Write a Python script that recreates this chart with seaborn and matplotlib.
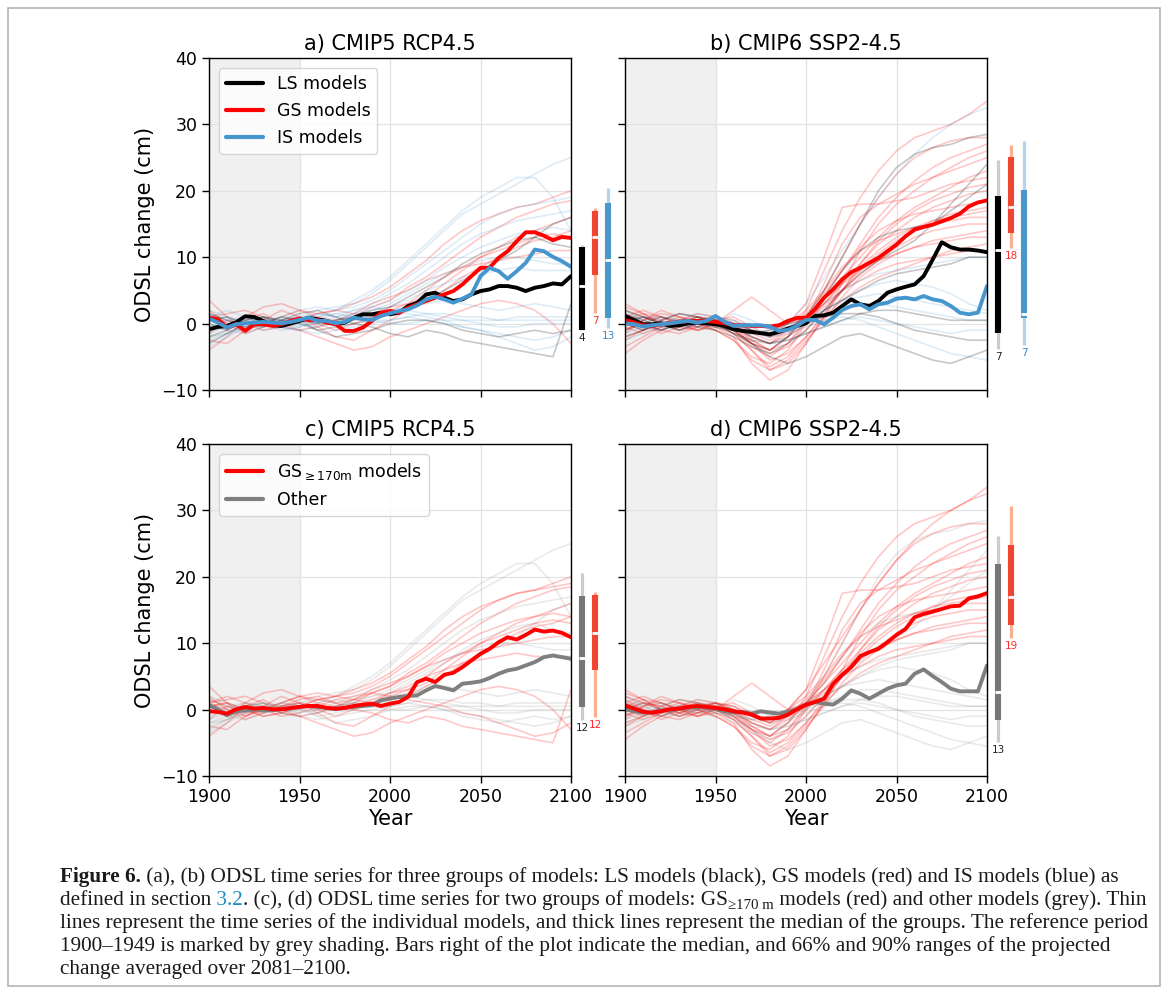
import numpy as np
import pandas as pd
import matplotlib
matplotlib.use("Agg")
import matplotlib.pyplot as plt
from matplotlib.lines import Line2D
from matplotlib.patches import Rectangle
import seaborn as sns

# ---- data ----
YEARS_DEC = list(range(1900, 2101, 10))
YEARS_MED = list(range(1900, 2101, 5))

# CMIP5 individual models, decadal values (cm)
CMIP5_LS = [
    [-2.0, -1.0, 0.5, 1.0, 0.0, 0.5, 0.0, 0.5, 1.0, 2.0, 2.5, 4.0, 5.5, 7.0, 9.0, 10.5, 11.5, 12.5, 13.0, 12.0, 11.5],
    [-3.0, -1.5, 0.0, 1.0, 0.5, 0.0, -1.0, -0.5, 0.0, 0.5, 1.5, 2.5, 3.5, 5.0, 6.5, 8.0, 9.5, 11.0, 13.0, 15.0, 16.0],
    [1.5, 0.5, -0.5, 0.0, 1.0, 0.5, -1.0, -2.0, -1.5, -1.0, 0.0, 0.5, 0.5, 0.0, -1.0, -1.5, -2.0, -1.5, -1.0, -1.5, -1.0],
    [0.5, 1.0, 0.0, -0.5, 0.5, 1.5, 2.0, 1.0, 0.0, -0.5, -1.5, -2.0, -1.0, -1.5, -2.5, -3.0, -3.5, -4.0, -4.5, -5.0, 3.0],
]
CMIP5_GS = [
    [3.5, 1.0, -1.0, 0.0, 1.0, 2.0, 1.5, 2.0, 3.0, 4.0, 5.5, 7.5, 9.5, 12.0, 14.0, 15.5, 16.5, 17.5, 18.0, 19.0, 20.0],
    [-4.0, -2.0, 0.5, 1.5, 0.0, -1.0, -0.5, 0.5, 1.0, 2.5, 3.5, 5.5, 7.0, 9.0, 11.0, 13.0, 14.5, 16.0, 17.0, 18.0, 18.5],
    [2.0, 0.0, -1.5, -0.5, 0.5, 1.0, 0.0, -1.0, 0.0, 1.0, 2.5, 3.0, 4.0, 6.0, 8.0, 10.0, 11.0, 12.0, 13.0, 13.5, 13.0],
    [-2.5, -3.0, -1.0, 0.5, 2.0, 1.0, -0.5, -2.0, -2.5, -1.0, 0.5, 2.0, 3.5, 5.0, 7.0, 8.5, 10.0, 11.5, 12.5, 13.0, 14.0],
    [1.0, 1.5, 2.0, 1.0, -0.5, -1.0, -2.0, -3.0, -4.0, -3.5, -2.0, -1.0, 0.0, 1.0, 2.0, 3.0, 3.5, 3.0, 2.0, 0.0, -3.0],
    [0.0, -1.0, 1.0, 2.5, 3.0, 2.0, 1.0, 0.5, 1.5, 3.0, 4.0, 5.0, 6.5, 7.5, 8.5, 9.0, 9.5, 10.0, 10.5, 11.0, 11.0],
    [-1.5, 0.5, 0.0, -1.0, -0.5, 0.5, 1.5, 2.0, 1.5, 1.0, 2.0, 3.0, 5.0, 7.0, 8.5, 10.0, 11.5, 13.0, 14.0, 15.0, 16.0],
]
CMIP5_IS = [
    [0.0, -1.0, 0.5, 1.0, 0.0, 1.0, 2.0, 2.5, 3.0, 4.5, 6.5, 9.0, 11.5, 14.0, 16.5, 18.0, 19.5, 21.0, 22.5, 24.0, 25.0],
    [-1.0, 0.0, 1.0, 0.5, -0.5, 0.0, 1.0, 2.0, 3.5, 5.0, 7.0, 9.5, 12.0, 14.5, 17.0, 19.0, 20.5, 22.0, 22.0, 19.0, 14.0],
    [1.5, 0.5, -0.5, 0.0, 1.0, 2.0, 2.5, 2.0, 2.5, 3.5, 5.0, 7.0, 9.0, 11.0, 13.0, 15.0, 16.5, 17.5, 18.0, 18.5, 19.0],
    [-2.0, -1.5, 0.0, 0.5, 0.0, -0.5, 0.0, 1.0, 2.0, 3.0, 4.5, 6.0, 8.0, 10.0, 12.0, 13.5, 14.5, 15.5, 16.0, 16.5, 17.0],
    [0.5, 1.0, 0.0, -1.0, -0.5, 0.5, 1.5, 1.0, 1.5, 2.5, 3.5, 5.0, 6.5, 8.5, 10.0, 11.5, 12.5, 13.5, 14.0, 14.5, 14.0],
    [-3.5, -2.0, -0.5, 0.5, 1.0, 0.5, 0.0, 0.5, 1.5, 2.0, 3.0, 4.5, 6.0, 7.5, 8.5, 9.5, 10.0, 10.0, 9.5, 9.0, 9.0],
    [1.0, 0.0, -1.0, 0.0, 0.5, 1.0, 0.5, 0.0, 0.5, 1.5, 2.5, 3.5, 5.0, 6.0, 7.0, 7.5, 8.0, 8.5, 8.0, 8.0, 8.0],
    [-1.5, -0.5, 0.5, 1.0, 0.5, 0.0, -0.5, 0.0, 1.0, 1.5, 2.0, 2.5, 3.0, 3.5, 3.0, 2.5, 2.0, 2.5, 3.0, 2.5, 2.0],
    [2.0, 1.0, 0.0, -0.5, 0.0, 0.5, 1.0, 1.5, 1.0, 0.5, 0.5, 1.0, 1.5, 1.5, 1.0, 1.0, 0.5, 1.0, 1.0, 1.0, 1.0],
    [-0.5, 0.5, 1.0, 0.5, -0.5, -1.0, -0.5, 0.5, 1.0, 0.5, 0.0, 0.0, 0.5, 0.5, 0.5, 0.5, 0.5, 0.5, 0.5, 0.5, 0.5],
    [0.0, -1.0, -1.5, -0.5, 0.5, 1.0, 1.5, 1.0, 0.5, 1.0, 1.5, 2.0, 1.5, 1.0, 0.5, 0.0, -0.5, -0.5, 0.0, 0.0, 0.0],
    [-2.5, -1.5, -0.5, 0.0, -0.5, -1.0, -1.5, -1.0, -0.5, 0.0, 0.5, 1.0, 0.5, 0.0, -0.5, -1.0, -1.5, -2.0, -2.5, -2.0, -1.0],
    [1.0, 2.0, 1.0, 0.0, -1.0, -0.5, 0.5, 1.5, 2.0, 2.5, 2.0, 1.5, 1.0, 0.5, -0.5, -1.0, -2.0, -3.0, -4.0, -3.5, -2.0],
]
# regrouping of the same CMIP5 models for panel c (LS, GS, IS order)
CMIP5_GROUPS_C = (["Other", "Other", "Other", "GS170"] + ["GS170"] * 7
                  + ["Other", "Other", "GS170", "Other", "GS170", "Other", "GS170",
                     "Other", "Other", "Other", "Other", "Other", "GS170"])

# CMIP6 individual models, decadal values (cm)
CMIP6_LS = [
    [0.5, 1.0, 0.0, -0.5, 0.5, 0.0, -1.0, -3.0, -4.0, -2.0, 1.0, 5.0, 10.0, 15.0, 20.0, 23.5, 25.5, 26.5, 27.0, 28.0, 28.5],
    [-1.0, 0.0, 1.0, 0.5, -0.5, -1.0, -2.0, -3.5, -4.5, -3.0, -1.0, 2.0, 5.0, 7.5, 9.5, 11.0, 12.5, 15.0, 18.0, 21.0, 24.0],
    [1.5, 0.5, -0.5, 0.0, 1.0, 0.5, 0.0, -1.0, -2.0, -1.0, 1.0, 4.0, 8.0, 11.0, 13.0, 14.0, 14.5, 15.0, 17.0, 19.0, 21.0],
    [0.0, -1.0, 0.5, 1.5, 1.0, 0.0, -1.5, -2.5, -3.0, -2.0, 0.0, 2.0, 3.5, 5.0, 6.5, 7.5, 8.0, 8.5, 9.0, 10.0, 10.0],
    [2.0, 1.0, 0.0, -1.0, 0.0, 0.5, -0.5, -2.0, -3.0, -2.5, -1.5, -0.5, 0.5, 1.5, 2.0, 2.0, 1.5, 1.0, 0.5, 0.5, 0.5],
    [-2.0, -1.0, 0.0, 0.5, 0.0, -0.5, -1.0, -1.5, -1.0, 0.0, 0.5, 1.0, 1.5, 1.5, 1.0, 0.0, -1.0, -1.5, -2.0, -2.5, -2.5],
    [1.0, 0.0, -1.0, 0.0, 0.5, 0.0, -1.5, -3.0, -5.0, -6.0, -5.0, -3.5, -2.0, -1.5, -2.5, -3.5, -4.5, -5.5, -6.0, -5.0, -4.0],
]
CMIP6_GS = [
    [1.0, 0.0, -1.0, 0.0, 1.0, 0.5, -1.0, -3.0, -4.0, -2.0, 2.0, 8.0, 14.0, 19.0, 23.0, 26.0, 28.0, 29.0, 30.0, 31.5, 33.5],
    [-1.0, 0.5, 1.5, 1.0, 0.0, -1.0, -2.5, -5.0, -6.0, -4.0, 0.0, 5.0, 10.0, 15.0, 19.0, 22.5, 25.0, 26.5, 27.5, 28.0, 28.0],
    [2.0, 1.0, 0.0, -1.0, 0.0, 1.0, 0.0, -2.0, -3.0, -1.0, 1.0, 4.0, 8.0, 12.0, 16.0, 19.0, 21.5, 23.5, 25.0, 26.0, 27.0],
    [-2.0, -1.0, 0.5, 1.5, 1.0, 0.0, -1.5, -4.0, -7.0, -6.0, -3.0, 1.0, 6.0, 11.0, 15.0, 18.0, 20.0, 22.0, 23.5, 25.0, 26.0],
    [0.5, 1.5, 1.0, 0.0, -0.5, 0.0, -1.0, -3.5, -5.0, -3.0, 0.5, 6.0, 12.0, 16.0, 18.0, 19.5, 21.0, 22.0, 23.0, 24.0, 25.0],
    [-3.5, -2.0, -0.5, 0.5, 1.0, 0.5, -0.5, -2.5, -4.0, -2.0, 1.0, 4.0, 7.0, 10.0, 13.0, 15.5, 17.5, 19.0, 20.5, 22.0, 23.0],
    [1.5, 0.0, -1.5, -0.5, 0.5, 1.0, 0.5, -1.0, -2.0, 0.0, 3.0, 10.0, 17.5, 18.0, 18.0, 18.5, 19.0, 20.0, 21.0, 21.5, 22.0],
    [0.0, -1.0, 0.0, 1.0, 0.5, -0.5, -2.0, -6.0, -8.5, -7.0, -3.0, 1.0, 5.0, 9.0, 12.5, 15.0, 17.0, 18.5, 19.5, 20.5, 21.0],
    [-1.5, 0.5, 1.0, 0.0, -1.0, 0.0, -0.5, -2.0, -3.0, -1.5, 0.5, 3.0, 6.0, 9.0, 12.0, 14.0, 16.0, 17.5, 18.5, 19.5, 20.0],
    [2.5, 1.5, 0.0, -1.0, -0.5, 0.5, 0.0, -1.5, -2.5, -1.0, 1.5, 4.5, 8.0, 11.5, 14.0, 15.5, 16.5, 17.0, 17.5, 18.0, 18.5],
    [-0.5, -1.5, -0.5, 0.5, 1.5, 1.0, -0.5, -3.0, -4.5, -3.5, -1.0, 2.0, 5.0, 8.0, 10.5, 12.5, 14.0, 15.5, 16.5, 17.0, 17.5],
    [1.0, 2.0, 1.0, 0.0, -1.0, -0.5, -1.5, -4.0, -6.5, -5.0, -2.0, 1.5, 5.0, 8.5, 11.0, 13.0, 14.5, 15.5, 16.0, 16.5, 17.0],
    [-2.5, -1.0, 0.0, 0.5, 0.0, 0.5, 0.0, -1.0, -1.5, 0.0, 2.0, 5.0, 8.5, 11.0, 12.5, 13.5, 14.5, 15.0, 15.5, 16.0, 16.0],
    [0.5, 0.0, -1.0, -1.5, -0.5, 0.5, 1.0, -0.5, -2.0, -1.0, 0.5, 2.5, 5.0, 7.5, 9.5, 11.5, 13.0, 14.0, 14.5, 15.0, 15.0],
    [-1.0, 0.5, 2.0, 1.0, 0.0, -1.0, -2.5, -5.5, -7.0, -5.5, -2.5, 0.5, 4.0, 7.0, 9.0, 10.5, 11.5, 12.5, 13.0, 13.5, 14.0],
    [3.0, 1.5, 0.0, -0.5, 0.5, 1.0, 0.0, -2.5, -4.0, -3.0, 0.0, 3.0, 6.0, 8.0, 9.5, 10.5, 11.5, 12.0, 12.5, 13.0, 13.0],
    [-4.5, -2.5, -1.0, 0.0, 0.5, 0.0, -1.0, -3.0, -5.5, -4.5, -2.0, 1.0, 3.5, 5.5, 7.0, 8.0, 9.0, 10.0, 11.0, 11.5, 12.0],
    [0.0, 1.0, 0.5, -0.5, -1.0, 0.0, 2.0, 4.0, 2.0, 0.0, 1.0, 3.0, 5.0, 6.5, 8.0, 9.0, 9.5, 10.0, 10.5, 11.0, 11.0],
]
CMIP6_IS = [
    [0.0, 1.0, 0.5, -0.5, 0.0, 1.0, 0.5, -1.0, -2.0, 0.0, 3.0, 7.0, 11.0, 15.0, 19.0, 22.5, 25.5, 28.0, 30.0, 31.5, 32.5],
    [-1.5, -0.5, 0.5, 1.5, 1.0, 0.0, 1.5, 0.5, -1.0, -0.5, 1.0, 3.0, 5.0, 6.5, 7.5, 8.0, 8.5, 9.0, 9.5, 10.0, 10.0],
    [1.0, 0.0, -1.0, 0.0, 0.5, 0.5, -0.5, -1.5, -1.0, 0.0, 1.0, 2.0, 3.5, 4.0, 4.5, 4.0, 3.5, 3.0, 2.5, 2.0, 1.5],
    [-0.5, 1.0, 1.0, 0.0, -0.5, 0.0, 0.5, -0.5, -1.5, -1.0, 0.0, 1.0, 2.0, 3.0, 3.0, 2.5, 2.0, 1.5, 1.0, 0.5, 0.5],
    [2.0, 0.5, -0.5, -1.0, 0.0, 1.0, 0.0, -2.0, -3.0, -2.5, -1.5, -0.5, 0.5, 1.0, 0.5, 0.0, -0.5, -1.0, -1.5, -1.0, -1.0],
    [-2.5, -1.5, 0.0, 0.5, 0.0, -0.5, -1.0, -1.5, -2.0, -1.5, -0.5, 0.5, 1.0, 0.5, -0.5, -1.5, -2.5, -3.5, -4.5, -5.0, -5.5],
    [0.5, -0.5, -1.0, 0.5, 1.5, 1.0, 0.0, -1.0, -1.5, -0.5, 0.5, 2.0, 3.5, 5.0, 6.0, 6.5, 6.0, 5.5, 4.5, 3.0, 2.0],
]
CMIP6_GROUPS_D = ["Other"] * 7 + ["GS170"] * 18 + ["GS170"] + ["Other"] * 6

# group medians, 5-yearly (cm)
A_LS = [-0.85, -0.5, -0.35, 0.2, 1.1, 1.0, 0.4, -0.25, -0.35, 0.0, 0.4, 0.9, 0.65, 0.4, -0.1, 0.15, 0.9, 1.4, 1.4, 1.65,
        1.4, 1.65, 2.65, 3.15, 4.4, 4.65, 3.9, 3.4, 3.65, 4.4, 4.9, 5.15, 5.65, 5.65, 5.4, 4.9, 5.4, 5.65, 6.05, 5.9, 7.15]
A_GS = [0.9, 0.65, -0.6, -0.1, -1.1, -0.1, -0.1, -0.35, -0.1, 0.4, 0.75, 0.55, 0.55, 0.15, -0.1, -1.1, -1.1, -0.6, 0.4, 1.65,
        1.9, 1.65, 2.4, 2.9, 3.4, 3.9, 4.4, 4.9, 5.9, 7.15, 8.4, 8.4, 9.9, 10.9, 12.4, 13.75, 13.75, 13.25, 12.55, 13.05, 12.9]
A_IS = [0.75, 0.15, -0.6, -0.1, 0.05, 0.15, 0.25, 0.15, 0.05, 0.25, 0.55, 0.9, 0.4, 0.4, 0.05, 0.25, 0.9, 0.65, 0.55, 1.15,
        1.55, 1.9, 2.15, 2.75, 3.65, 4.05, 3.65, 3.15, 3.75, 4.4, 7.15, 8.4, 7.9, 6.75, 7.9, 9.15, 11.15, 10.9, 10.05, 9.4, 8.55]
B_LS = [1.15, 0.55, -0.1, -0.1, 0.05, -0.35, -0.25, 0.05, 0.15, 0.05, -0.1, -0.35, -0.85, -1.1, -1.25, -1.45, -1.6, -1.25, -0.75, -0.35,
        0.05, 1.15, 1.25, 1.65, 2.65, 3.65, 2.9, 2.65, 3.4, 4.65, 5.15, 5.55, 5.9, 7.15, 9.65, 12.25, 11.5, 11.15, 11.15, 11.0, 10.75]
B_GS = [0.55, 0.15, -0.25, -0.35, -0.1, 0.05, 0.25, 0.4, 0.4, 0.4, 0.25, 0.05, -0.25, -0.25, -0.35, -0.35, -0.45, -0.25, 0.4, 0.85,
        0.9, 2.15, 3.9, 5.15, 6.65, 7.75, 8.4, 9.15, 9.9, 10.9, 11.9, 13.15, 14.15, 14.55, 14.9, 15.4, 15.9, 16.55, 17.65, 18.25, 18.55]
B_IS = [0.05, -0.1, -0.45, -0.25, -0.1, 0.05, 0.25, 0.4, 0.15, 0.4, 1.15, 0.25, -0.35, -0.25, -0.25, -0.25, -0.45, -1.1, -0.95, -0.35,
        0.55, 0.55, -0.1, 0.9, 2.05, 2.65, 2.9, 2.15, 2.9, 3.15, 3.75, 3.9, 3.65, 4.15, 3.65, 3.4, 2.65, 1.65, 1.4, 1.65, 5.65]
C_GS = [-0.25, -0.35, -0.6, 0.05, 0.4, 0.15, 0.25, 0.05, 0.05, 0.25, 0.4, 0.55, 0.55, 0.25, 0.15, 0.25, 0.55, 0.75, 0.9, 0.55,
        0.9, 1.15, 1.9, 4.15, 4.65, 4.15, 5.25, 5.55, 6.4, 7.4, 8.4, 9.15, 10.15, 10.9, 10.55, 11.25, 12.05, 11.75, 11.9, 11.55, 10.9]
C_OT = [0.65, 0.05, -0.85, -0.25, -0.1, 0.05, -0.1, -0.1, 0.05, 0.15, 0.4, 0.55, 0.4, 0.25, 0.05, 0.25, 0.4, 0.55, 0.65, 1.4,
        1.65, 1.9, 2.05, 2.15, 2.9, 3.55, 3.25, 2.9, 3.9, 4.05, 4.25, 4.75, 5.4, 5.9, 6.15, 6.65, 7.15, 7.9, 8.15, 7.9, 7.65]
D_GS = [0.65, 0.15, -0.35, -0.45, -0.25, 0.05, 0.15, 0.4, 0.55, 0.4, 0.25, 0.05, -0.25, -0.45, -0.75, -1.35, -1.35, -1.25, -0.75, 0.05,
        0.75, 1.15, 1.65, 3.9, 5.25, 6.4, 8.05, 8.65, 9.15, 10.15, 11.25, 12.15, 13.9, 14.4, 14.75, 15.15, 15.55, 15.65, 16.75, 17.05, 17.55]
D_OT = [0.05, -0.25, -0.45, -0.45, -0.1, -0.1, 0.15, 0.25, 0.4, 0.25, 0.05, -0.25, -0.45, -0.35, -0.6, -0.25, -0.45, -0.6, -0.35, 0.05,
        0.65, 1.15, 0.9, 0.75, 1.65, 2.9, 2.4, 1.65, 2.4, 3.15, 3.65, 3.9, 5.4, 6.05, 5.05, 4.15, 3.15, 2.75, 2.75, 2.75, 6.65]

# bars: (group, lo90, lo66, median, hi66, hi90, n) for 2081-2100 averages
BARS_A = [("LS", -1.0, -1.0, 5.6, 11.6, 11.8, 4), ("GS", 1.6, 7.3, 13.0, 17.0, 17.4, 7), ("IS", -0.7, 0.8, 9.6, 18.1, 20.4, 13)]
BARS_B = [("LS", -3.8, -1.4, 11.1, 19.2, 24.6, 7), ("GS", 11.4, 13.6, 17.5, 25.1, 26.9, 18), ("IS", -3.2, 0.8, 1.4, 20.1, 27.5, 7)]
BARS_C = [("Other", -1.6, 0.4, 7.8, 17.1, 20.6, 12), ("GS170", -1.1, 6.0, 11.5, 17.3, 17.7, 12)]
BARS_D = [("Other", -4.9, -1.6, 2.7, 21.9, 26.1, 13), ("GS170", 10.8, 12.7, 17.0, 24.8, 30.7, 19)]

TITLES = ["a) CMIP5 RCP4.5", "b) CMIP6 SSP2-4.5", "c) CMIP5 RCP4.5", "d) CMIP6 SSP2-4.5"]
LABELS = {"LS": "LS models", "GS": "GS models", "IS": "IS models",
          "GS170": r"GS$_{\geq170\mathrm{m}}$ models", "Other": "Other"}

CAPTION = [
    [("Figure 6.", "bold"), (" (a), (b) ODSL time series for three groups of models: LS models (black), GS models (red) and IS models (blue) as", None)],
    [("defined in section", None), (" 3.2", "link"), (". (c), (d) ODSL time series for two groups of models: GS", None),
     ("\u2265170 m", "sub"), (" models (red) and other models (grey). Thin", None)],
    [("lines represent the time series of the individual models, and thick lines represent the median of the groups. The reference period", None)],
    [("1900\u20131949 is marked by grey shading. Bars right of the plot indicate the median, and 66% and 90% ranges of the projected", None)],
    [("change averaged over 2081\u20132100.", None)],
]

# ---- styles ----
LINE_COL = {"LS": "black", "GS": "#ff0000", "IS": "#4596cf", "GS170": "#ff0000", "Other": "#7f7f7f"}
BAR_DARK = {"LS": "black", "GS": "#ef4533", "IS": "#4a98c9", "GS170": "#ef4533", "Other": "#777777"}
BAR_LIGHT = {"LS": "#cccccc", "GS": "#fcae91", "IS": "#b5d4ea", "GS170": "#fcae91", "Other": "#cccccc"}
NUM_COL = {"LS": "#222222", "GS": "#ff2a2a", "IS": "#3b86c2", "GS170": "#ff2a2a", "Other": "#222222"}
THIN_ALPHA = {"LS": 0.22, "GS": 0.22, "IS": 0.18, "GS170": 0.22, "Other": 0.16}

W, H = 1168, 989


def box(l, t, r, b):
    return [l / W, 1 - b / H, (r - l) / W, (b - t) / H]


def models_frame(series, groups):
    rows = []
    for i, (vals, g) in enumerate(zip(series, groups)):
        for yr, v in zip(YEARS_DEC, vals):
            rows.append({"year": yr, "odsl": v, "model": i, "group": g})
    return pd.DataFrame(rows)


def median_frame(meds):
    rows = []
    for g, vals in meds:
        for yr, v in zip(YEARS_MED, vals):
            rows.append({"year": yr, "odsl": v, "group": g})
    return pd.DataFrame(rows)


sns.set_style("ticks", {"axes.grid": True, "grid.color": "#e3e3e3", "axes.edgecolor": "black",
                        "xtick.direction": "out", "ytick.direction": "out",
                        "text.color": "black", "axes.labelcolor": "black",
                        "xtick.color": "black", "ytick.color": "black"})
plt.rcParams["font.family"] = ["DejaVu Sans"]

fig = plt.figure(figsize=(W / 100, H / 100), dpi=100)
fig.patch.set_facecolor("white")

cmip5 = CMIP5_LS + CMIP5_GS + CMIP5_IS
cmip6 = CMIP6_LS + CMIP6_GS + CMIP6_IS
grp5_a = ["LS"] * len(CMIP5_LS) + ["GS"] * len(CMIP5_GS) + ["IS"] * len(CMIP5_IS)
grp6_b = ["LS"] * len(CMIP6_LS) + ["GS"] * len(CMIP6_GS) + ["IS"] * len(CMIP6_IS)

panels = [
    ((209, 58, 571, 390), models_frame(cmip5, grp5_a), [("LS", A_LS), ("GS", A_GS), ("IS", A_IS)], BARS_A, ["LS", "GS", "IS"]),
    ((625, 58, 987, 390), models_frame(cmip6, grp6_b), [("LS", B_LS), ("GS", B_GS), ("IS", B_IS)], BARS_B, None),
    ((209, 444, 571, 776), models_frame(cmip5, CMIP5_GROUPS_C), [("Other", C_OT), ("GS170", C_GS)], BARS_C, ["GS170", "Other"]),
    ((625, 444, 987, 776), models_frame(cmip6, CMIP6_GROUPS_D), [("Other", D_OT), ("GS170", D_GS)], BARS_D, None),
]

for k, (pos, dfm, meds, bars, leg) in enumerate(panels):
    l, t, r, b = pos
    ax = fig.add_axes(box(l, t, r, b))
    ax.axvspan(1900, 1950, color="#f0f0f0", zorder=0, lw=0)
    ax.set_axisbelow(True)
    for g, sub in dfm.groupby("group"):
        sns.lineplot(data=sub, x="year", y="odsl", units="model", estimator=None,
                     color=LINE_COL[g], lw=1.2, alpha=THIN_ALPHA[g], legend=False, ax=ax)
    sns.lineplot(data=median_frame(meds), x="year", y="odsl", hue="group",
                 palette=LINE_COL, lw=2.8, legend=False, ax=ax)
    ax.set_xlim(1900, 2100)
    ax.set_ylim(-10, 40)
    ax.set_xticks(range(1900, 2101, 50))
    ax.set_yticks(range(-10, 41, 10))
    ax.grid(True, color="#e3e3e3", lw=0.9)
    ax.tick_params(labelsize=12.5, length=5, width=1, color="black", labelcolor="black")
    for s in ax.spines.values():
        s.set_color("black")
        s.set_linewidth(1)
    ax.set_title(TITLES[k], fontsize=15, pad=6, color="black")
    if k in (0, 2):
        ax.set_ylabel("ODSL change (cm)", fontsize=15, color="black")
    else:
        ax.set_ylabel("")
        ax.tick_params(labelleft=False)
    if k in (2, 3):
        ax.set_xlabel("Year", fontsize=15, labelpad=2, color="black")
    else:
        ax.set_xlabel("")
        ax.tick_params(labelbottom=False)
    if leg:
        handles = [Line2D([0], [0], color=LINE_COL[g], lw=3, label=LABELS[g]) for g in leg]
        ax.legend(handles=handles, loc="upper left", fontsize=12.5, borderaxespad=0.6,
                  handlelength=2.1, framealpha=0.8)

    # range bars right of the panel
    bax = fig.add_axes(box(r, t, r + 50, b))
    bax.set_xlim(0, 50)
    bax.set_ylim(-10, 40)
    bax.axis("off")
    for j, (g, lo90, lo66, med, hi66, hi90, n) in enumerate(bars):
        x = 11 + 13 * j
        bax.vlines(x, lo90, hi90, color=BAR_LIGHT[g], lw=2.3)
        bax.vlines(x, lo66, hi66, color=BAR_DARK[g], lw=4.4)
        bax.hlines(med, x - 3.5, x + 3.5, color="white", lw=2)
        bax.text(x, lo90 - 0.45, str(n), ha="center", va="top", fontsize=7.5, color=NUM_COL[g])

# caption
renderer = fig.canvas.get_renderer()
probe = fig.text(0, 0, CAPTION[2][0][0], fontsize=10, family="Liberation Serif")
cap_size = 10 * 1085 / probe.get_window_extent(renderer).width
probe.remove()

for i, line in enumerate(CAPTION):
    x = 60
    y = 882 + 23 * i
    for txt, kind in line:
        kw = dict(fontsize=cap_size, family=["Liberation Serif", "DejaVu Serif"], color="#1a1a1a", va="baseline")
        yy = y
        if kind == "bold":
            kw["fontweight"] = "bold"
        elif kind == "link":
            kw["color"] = "#1f8bc6"
        elif kind == "sub":
            kw["fontsize"] = cap_size * 0.7
            yy = y + 4
        t = fig.text(x / W, 1 - yy / H, txt, **kw)
        x += t.get_window_extent(renderer).width

fig.add_artist(Rectangle((8 / W, 1 - 986 / H), (1160 - 8) / W, (986 - 8) / H, transform=fig.transFigure,
                         fill=False, ec="#b4b4b4", lw=1.2))

fig.savefig("out.png", dpi=100)
